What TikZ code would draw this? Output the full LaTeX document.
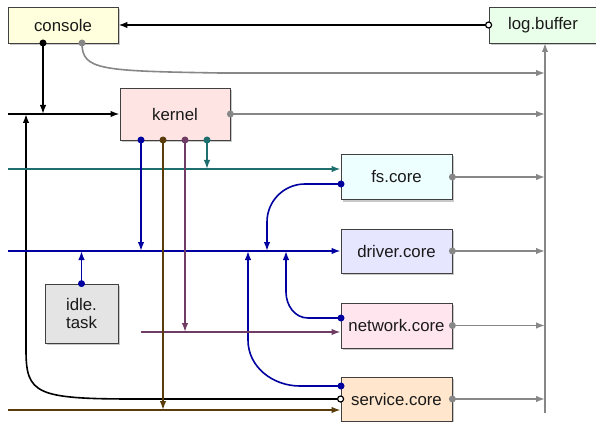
\documentclass[tikz,border=0pt]{standalone}
\usepackage{fontspec}
\setmainfont{Liberation Sans}
\usetikzlibrary{arrows.meta,shadows,calc}

\definecolor{cGray}{RGB}{135,135,135}
\definecolor{cBlue}{RGB}{0,0,160}
\definecolor{cTeal}{RGB}{30,110,110}
\definecolor{cBrown}{RGB}{90,60,10}
\definecolor{cPurple}{RGB}{110,60,100}
\definecolor{fConsole}{RGB}{255,255,222}
\definecolor{fLog}{RGB}{234,255,234}
\definecolor{fKernel}{RGB}{255,228,228}
\definecolor{fFs}{RGB}{238,255,255}
\definecolor{fDriver}{RGB}{230,230,255}
\definecolor{fNetwork}{RGB}{255,230,238}
\definecolor{fService}{RGB}{255,230,204}
\definecolor{fIdle}{RGB}{228,228,228}

\begin{document}
\begin{tikzpicture}[x=1pt,y=-1pt,
  box/.style={draw=black!75,line width=0.8pt,inner sep=0pt,
    text=black!90,font=\fontsize{16.8}{18}\selectfont,align=center,
    drop shadow={shadow xshift=2pt,shadow yshift=-2pt,fill=black!35,opacity=0.6}},
  flow/.style={line width=1.6pt,-{Latex[length=9pt,width=6.5pt]}},
  ring/.style={fill=white,line width=1.2pt}
]
\fill[white] (0,0) rectangle (596,422);
\useasboundingbox (0,0) rectangle (596,422);

% component boxes
\node[box,fill=fConsole,minimum width=110pt,minimum height=36pt] (console) at (63,25) {console};
\node[box,fill=fLog,minimum width=108pt,minimum height=36pt] (log) at (543,25) {log.buffer};
\node[box,fill=fKernel,minimum width=110pt,minimum height=52pt] (kernel) at (175,114) {kernel};
\node[box,fill=fFs,minimum width=111pt,minimum height=45pt] (fs) at (396.5,177) {fs.core};
\node[box,fill=fDriver,minimum width=111pt,minimum height=44pt] (drv) at (396.5,251) {driver.core};
\node[box,fill=fNetwork,minimum width=111pt,minimum height=45pt] (net) at (396.5,325.5) {network.core};
\node[box,fill=fService,minimum width=111pt,minimum height=44pt] (svc) at (396.5,399) {service.core};
\node[box,fill=fIdle,minimum width=73pt,minimum height=59pt] (idle) at (81.5,313.5) {idle.\\task};

% ports and free ends
\coordinate (cD) at (43,43);
\coordinate (cG) at (82,43);
\coordinate (kB) at (141,140);
\coordinate (kN) at (163,140);
\coordinate (kP) at (185,140);
\coordinate (kT) at (207,140);
\coordinate (fsB) at (341,184);
\coordinate (netB) at (341,318);
\coordinate (svcB) at (341,386);
\coordinate (inK) at (8,114);
\coordinate (inT) at (8,169);
\coordinate (inB) at (8,251);
\coordinate (inP) at (141,332);
\coordinate (inN) at (8,410);
\coordinate (busTop) at (545,43);
\coordinate (busBot) at (545,413);

% log bus (gray)
\draw[flow,cGray] (busBot) -- (busTop);
\draw[flow,cGray] (cG) .. controls (82,70) and (100,71) .. (220,73) -- (545,73);
\draw[flow,cGray] (kernel.east) -- (kernel.east -| busTop);
\draw[flow,cGray] (fs.east) -- (fs.east -| busTop);
\draw[flow,cGray] (drv.east) -- (drv.east -| busTop);
\draw[flow,cGray] (net.east) -- (net.east -| busTop);
\draw[flow,cGray] (svc.east) -- (svc.east -| busTop);

% black lines
\draw[flow] (log.west) -- (console.east);
\draw[flow] (cD) -- (cD |- inK);
\draw[flow] (inK) -- (kernel.west);
\draw[flow] (svc.west) -- (135,399) .. controls (36,399) and (26,394) .. (26,350) -- (26,114);

% teal
\draw[flow,cTeal] (kT) -- (kT |- inT);
\draw[flow,cTeal] (inT) -- (inT -| fs.west);

% blue
\draw[flow,cBlue] (inB) -- (drv.west);
\draw[flow,cBlue] (kB) -- (kB |- inB);
\draw[flow,cBlue] (idle.north) -- (idle.north |- inB);
\draw[flow,cBlue] (fsB) -- (305,184) to[out=180,in=90] (267,222) -- (267,251);
\draw[flow,cBlue] (netB) -- (308,318) to[out=180,in=-90] (286,292) -- (286,251);
\draw[flow,cBlue] (svcB) -- (300,386) to[out=180,in=-90] (248,340) -- (248,251);

% purple
\draw[flow,cPurple] (kP) -- (kP |- inP);
\draw[flow,cPurple] (inP) -- (inP -| net.west);

% brown
\draw[flow,cBrown] (kN) -- (kN |- inN);
\draw[flow,cBrown] (inN) -- (inN -| svc.west);

% port marks
\fill (cD) circle (3.5pt);
\fill[cGray] (cG) circle (3.5pt);
\fill[cGray] (kernel.east) circle (3.5pt);
\fill[cGray] (fs.east) circle (3.5pt);
\fill[cGray] (drv.east) circle (3.5pt);
\fill[cGray] (net.east) circle (3.5pt);
\fill[cGray] (svc.east) circle (3.5pt);
\fill[cBlue] (kB) circle (3.5pt);
\fill[cBrown] (kN) circle (3.5pt);
\fill[cPurple] (kP) circle (3.5pt);
\fill[cTeal] (kT) circle (3.5pt);
\fill[cBlue] (idle.north) circle (3.5pt);
\fill[cBlue] (fsB) circle (3.5pt);
\fill[cBlue] (netB) circle (3.5pt);
\fill[cBlue] (svcB) circle (3.5pt);
\draw[ring] (log.west) circle (3pt);
\draw[ring] (svc.west) circle (3pt);
\end{tikzpicture}
\end{document}
